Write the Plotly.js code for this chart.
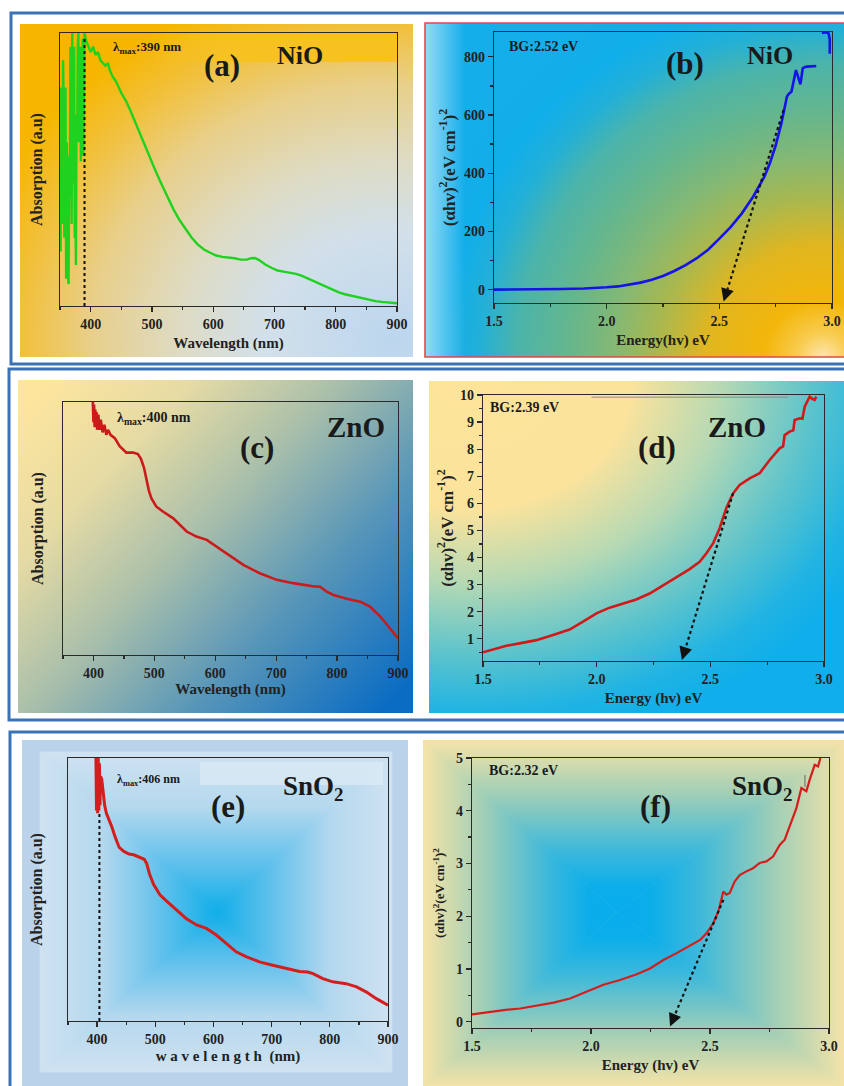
<!DOCTYPE html>
<html><head><meta charset="utf-8">
<script src="https://cdn.plot.ly/plotly-3.0.1.min.js"></script>
<style>html,body{margin:0;padding:0;background:#fff}#chart{width:844px;height:1086px}</style>
</head><body><div id="chart"></div>
<script>
// ---------- DATA ----------
// (a) NiO absorption
const nioWl = [350,351,352,353,354,355,356,357,358,359,360,361,362,363,364,365,366,367,368,369,370,371,372,373,374,375,376,377,378,379,380,381,382,383,384,385,386,387,388,389,390,393,396,400,404,408,412,416,420,424,428,432,436,442,450,458,466,475,485,495,505,515,525,535,545,555,565,575,585,595,605,615,625,635,645,655,662,668,675,685,695,705,715,725,735,745,755,765,775,785,795,805,815,825,835,845,855,865,875,885,900];
const nioAbs = [0.55,0.20,0.80,0.35,0.30,0.90,0.75,0.25,0.35,0.80,0.10,0.60,0.50,0.12,0.08,0.55,0.40,0.95,0.80,0.30,1.0,0.45,0.70,0.95,0.25,0.40,0.15,0.70,0.60,0.95,1.0,0.60,0.80,0.95,0.53,0.80,0.70,0.98,0.55,0.85,1.0,0.97,0.95,0.93,0.95,0.92,0.93,0.90,0.89,0.88,0.89,0.86,0.84,0.82,0.78,0.75,0.71,0.66,0.61,0.55,0.50,0.45,0.40,0.355,0.315,0.28,0.25,0.225,0.207,0.195,0.185,0.18,0.178,0.175,0.17,0.17,0.175,0.176,0.168,0.152,0.14,0.13,0.126,0.122,0.118,0.11,0.10,0.09,0.08,0.07,0.058,0.05,0.043,0.038,0.032,0.027,0.022,0.018,0.015,0.012,0.01];
const nioLambdaMax = 390;
// (b) NiO Tauc
const nioE = [1.5,1.6,1.7,1.8,1.9,1.95,2.0,2.05,2.1,2.15,2.2,2.25,2.3,2.35,2.4,2.45,2.5,2.55,2.6,2.65,2.7,2.725,2.75,2.775,2.8,2.81,2.82,2.83,2.84,2.85,2.86,2.87,2.88,2.89,2.91,2.93,null,2.955,2.975,2.985,2.99,2.99];
const nioTauc = [0,0,1,2,4,5,8,11,17,24,34,47,64,84,108,137,175,215,262,319,388,436,495,570,663,674,680,714,754,730,705,760,765,766,766,768,null,882,884,880,860,810];
const nioBG = 2.52;
const nioTangent = {x:[2.785,2.519], y:[617,-41]};
// (c) ZnO absorption
const znoWl = [399,400,401,402,403,404,405,406,408,410,412,415,418,421,424,428,435,443,454,465,473,478,483,487,491,495,503,514,531,553,569,586,602,624,646,673,701,728,750,760,772,783,794,816,838,854,871,887,900];
const znoAbs = [1.0,0.92,0.99,0.90,0.97,0.90,0.96,0.89,0.95,0.89,0.93,0.88,0.91,0.87,0.89,0.87,0.857,0.825,0.80,0.80,0.794,0.775,0.74,0.69,0.65,0.62,0.587,0.567,0.54,0.488,0.468,0.455,0.429,0.39,0.356,0.323,0.297,0.284,0.274,0.272,0.27,0.25,0.237,0.222,0.211,0.191,0.152,0.106,0.066];
const znoLambdaMax = 400;
// (d) ZnO Tauc
const znoE = [1.5,1.559,1.603,1.661,1.735,1.808,1.881,1.94,1.999,2.057,2.116,2.174,2.233,2.292,2.35,2.409,2.453,2.482,2.512,2.541,2.57,2.6,2.629,2.673,2.717,2.761,2.805,2.82,2.827,2.849,2.865,2.871,2.893,2.905,2.915,2.937,2.95,2.959,2.966];
const znoTauc = [0.50,0.64,0.74,0.83,0.95,1.14,1.34,1.63,1.94,2.15,2.31,2.45,2.67,2.98,3.29,3.57,3.84,4.15,4.52,5.08,5.82,6.37,6.68,6.92,7.11,7.6,8.03,8.1,8.52,8.65,8.7,9.08,9.14,9.12,9.57,9.94,9.85,9.82,9.94];
const znoBG = 2.39;
const znoTangent = {x:[2.6,2.375], y:[6.37,0.22]};
// (e) SnO2 absorption
const snoWl = [398,399,400,401,402,403,404,405,406,408,410,413,416,420,425,431,438,446,455,463,471,476,481,485,490,497,508,520,536,553,571,588,605,622,639,657,679,702,725,748,762,771,788,805,828,846,863,880,900];
const snoAbs = [1.0,0.80,1.0,0.79,1.0,0.80,0.98,0.82,0.93,0.92,0.88,0.82,0.79,0.77,0.74,0.70,0.66,0.645,0.635,0.632,0.625,0.62,0.615,0.60,0.56,0.52,0.48,0.455,0.422,0.39,0.365,0.352,0.327,0.295,0.263,0.244,0.225,0.212,0.20,0.188,0.186,0.18,0.161,0.149,0.142,0.13,0.11,0.085,0.06];
const snoLambdaMax = 404;
// (f) SnO2 Tauc
const snoE = [1.5,1.563,1.633,1.703,1.773,1.843,1.912,1.982,2.052,2.122,2.192,2.248,2.304,2.36,2.416,2.458,2.486,2.514,2.535,2.556,2.569,2.583,2.604,2.625,2.653,2.681,2.709,2.737,2.765,2.793,2.814,2.835,2.863,2.884,2.895,2.905,2.919,2.94,2.954,2.964];
const snoTauc = [0.14,0.18,0.22,0.25,0.30,0.36,0.44,0.57,0.70,0.79,0.90,1.01,1.17,1.30,1.44,1.55,1.68,1.87,2.09,2.47,2.41,2.44,2.66,2.78,2.85,2.91,3.01,3.04,3.13,3.35,3.45,3.70,4.05,4.43,4.40,4.37,4.59,4.87,4.84,5.0];
const snoBG = 2.32;
const snoTangent = {x:[2.556,2.332], y:[2.31,-0.09]};

// ---------- LAYOUT HELPERS ----------
const W = 844, H = 1086;
const SERIF = 'Liberation Serif, Times New Roman, serif';
const P = {
  a:{box:[60,397,33,306],  xr:[350,900], yr:[0,1.0],   n:''},
  b:{box:[494,832,32,303], xr:[1.5,3.0], yr:[-46,885], n:'2'},
  c:{box:[63,398,402,655], xr:[350,900], yr:[0,1.0],   n:'3'},
  d:{box:[483,824,395,661],xr:[1.5,3.0], yr:[0.18,10], n:'4'},
  e:{box:[68,388,758,1021],xr:[350,900], yr:[0,1.0],   n:'5'},
  f:{box:[472,829,758,1028],xr:[1.5,3.0],yr:[-0.12,5], n:'6'}
};
function toPx(p, xv, yv){
  const b = P[p].box;
  return [b[0] + (xv - P[p].xr[0])/(P[p].xr[1]-P[p].xr[0])*(b[1]-b[0]),
          b[3] - (yv - P[p].yr[0])/(P[p].yr[1]-P[p].yr[0])*(b[3]-b[2])];
}
const tickFont = {family:SERIF, size:14, color:'#222', weight:'bold'};
function xAx(p, title, standoff){
  const c = P[p], wl = c.xr[0] === 350;
  return {domain:[c.box[0]/W, c.box[1]/W], range:c.xr, anchor:'y'+c.n,
    showline:true, mirror:true, linecolor:'#2a2a2a', linewidth:1.3,
    ticks:'outside', ticklen:5, tickwidth:1.3, tickcolor:'#2a2a2a',
    tick0: wl?400:1.5, dtick: wl?100:0.5, tickformat: wl?'d':'.1f',
    minor:{ticks:'outside', ticklen:3, tickcolor:'#2a2a2a', tick0: wl?350:1.5, dtick: wl?50:0.25},
    showgrid:false, zeroline:false, tickfont:tickFont, fixedrange:true,
    title:{text:title, font:{family:SERIF, size:15, color:'#222', weight:'bold'}, standoff:standoff}};
}
function yAx(p, opts){
  const c = P[p];
  const base = {domain:[1-c.box[3]/H, 1-c.box[2]/H], range:c.yr, anchor:'x'+c.n,
    showline:true, mirror:true, linecolor:'#2a2a2a', linewidth:1.3,
    showgrid:false, zeroline:false, tickfont:tickFont, fixedrange:true};
  return Object.assign(base, opts);
}
function absY(p, standoff){
  return yAx(p, {ticks:'', showticklabels:false,
    title:{text:'Absorption (a.u)', font:{family:SERIF, size:16, color:'#222', weight:'bold'}, standoff:standoff}});
}
function tY(p, tick0, dtick, mdtick, size, standoff){
  return yAx(p, {ticks:'outside', ticklen:5, tickwidth:1.3, tickcolor:'#2a2a2a', tick0, dtick,
    minor:{ticks:'outside', ticklen:3, tickcolor:'#2a2a2a', tick0, dtick:mdtick},
    title:{text:'(αhv)<sup>2</sup>(eV cm<sup>-1</sup>)<sup>2</sup>', font:{family:SERIF, size:size, color:'#222', weight:'bold'}, standoff:standoff}});
}

// ---------- BACKGROUND (SVG image) ----------
function stopsStr(st){ return st.map(s=>`<stop offset="${s[0]}" stop-color="${s[1]}"/>`).join(''); }
function rectGrad(id, x0,y0,x1,y1,cx,cy,st){
  const d = [
    [`${x0},${y0} ${x1},${y0} ${cx},${cy}`, cx,y0,cx,cy],
    [`${x0},${y1} ${x1},${y1} ${cx},${cy}`, cx,y1,cx,cy],
    [`${x0},${y0} ${x0},${y1} ${cx},${cy}`, x0,cy,cx,cy],
    [`${x1},${y0} ${x1},${y1} ${cx},${cy}`, x1,cy,cx,cy]];
  let defs='', body='';
  d.forEach((t,i)=>{
    defs += `<linearGradient id="${id}${i}" gradientUnits="userSpaceOnUse" x1="${t[1]}" y1="${t[2]}" x2="${t[3]}" y2="${t[4]}">${stopsStr(st)}</linearGradient>`;
    body += `<polygon points="${t[0]}" fill="url(#${id}${i})" stroke="url(#${id}${i})" stroke-width="0.6"/>`;
  });
  return [defs, body];
}
function buildBg(){
  let defs = '', body = '';
  // (a)
  defs += `<radialGradient id="ga" cx="0.95" cy="0.95" r="1.1">${stopsStr([[0,'#bcd6ee'],[0.3,'#d2e0ea'],[0.5,'#dedbc2'],[0.7,'#e8cf8a'],[0.85,'#f1c140'],[1,'#f6b600']])}</radialGradient>`;
  defs += `<linearGradient id="gasm" x1="0" y1="0" x2="1" y2="0"><stop offset="0" stop-color="#f7c21e" stop-opacity="0"/><stop offset="0.35" stop-color="#f7c21e" stop-opacity="0.9"/><stop offset="1" stop-color="#f7c21e" stop-opacity="1"/></linearGradient>`;
  body += `<rect x="20" y="24" width="393" height="333" fill="url(#ga)"/>`;
  body += `<rect x="150" y="33" width="247" height="29" fill="url(#gasm)"/>`;
  // (b)
  defs += `<radialGradient id="gb" cx="0.95" cy="1.0" r="1.0" gradientTransform="translate(0.95,1) scale(1,1.2) translate(-0.95,-1)">${stopsStr([[0,'#fde6b0'],[0.06,'#f9cc50'],[0.14,'#f3b60a'],[0.28,'#e0b620'],[0.4,'#a8b850'],[0.5,'#84b874'],[0.62,'#62b690'],[0.73,'#4cb4aa'],[0.82,'#22b0d8'],[0.9,'#10aeea'],[1,'#14aeea']])}</radialGradient>`;
  defs += `<linearGradient id="gbl" x1="0" y1="0" x2="1" y2="0"><stop offset="0" stop-color="#ffffff" stop-opacity="0.55"/><stop offset="1" stop-color="#ffffff" stop-opacity="0"/></linearGradient>`;
  body += `<rect x="425" y="23" width="419" height="334" fill="url(#gb)"/>`;
  body += `<rect x="425" y="23" width="40" height="334" fill="url(#gbl)"/>`;
  // (c)
  defs += `<linearGradient id="gc" x1="0" y1="0.1" x2="1" y2="0.9">${stopsStr([[0,'#fde59e'],[0.22,'#e6dba4'],[0.45,'#a9bfaa'],[0.7,'#5896b8'],[1,'#0a6cc2']])}</linearGradient>`;
  body += `<rect x="18" y="380" width="395" height="333" fill="url(#gc)"/>`;
  // (d)
  defs += `<radialGradient id="gd" cx="0.1" cy="0.0" r="1.1">${stopsStr([[0,'#fde49a'],[0.35,'#fbe39c'],[0.55,'#b6d9b4'],[0.75,'#5cc3cc'],[0.9,'#22b4e2'],[1,'#10aeea']])}</radialGradient>`;
  body += `<rect x="429" y="381" width="415" height="332" fill="url(#gd)"/>`;
  // (e)
  body += `<rect x="22" y="740" width="386" height="346" fill="#bad3ea"/>`;
  let r = rectGrad('ge', 40,752,392,1072,217,912, [[0,'#cfe2f1'],[0.35,'#b4d8ee'],[0.7,'#5ec0ec'],[1,'#10aee8']]);
  defs += r[0]; body += r[1];
  body += `<rect x="200" y="762" width="183" height="23" fill="#e4eef7" opacity="0.55"/>`;
  // (f)
  body += `<rect x="423" y="740" width="421" height="346" fill="#f2e2a6"/>`;
  r = rectGrad('gf', 425,742,844,1086,617,912, [[0,'#f3e3a8'],[0.3,'#a2cfb6'],[0.65,'#3ab8dc'],[0.85,'#0caeea'],[1,'#08adec']]);
  defs += r[0]; body += r[1];
  return `<svg xmlns="http://www.w3.org/2000/svg" width="${W}" height="${H}" viewBox="0 0 ${W} ${H}"><defs>${defs}</defs>${body}</svg>`;
}

// ---------- TRACES ----------
function line(p, x, y, color, width){
  return {type:'scatter', mode:'lines', x, y, xaxis:'x'+P[p].n, yaxis:'y'+P[p].n,
    line:{color, width, shape:'linear'}, connectgaps:false, hoverinfo:'skip', showlegend:false};
}
const traces = [
  line('a', nioWl, nioAbs, '#1fd21f', 2.4),
  line('b', nioE, nioTauc, '#1414e6', 2.6),
  line('c', znoWl, znoAbs, '#cc1a1a', 2.6),
  line('d', znoE, znoTauc, '#d01a1a', 2.6),
  line('e', snoWl, snoAbs, '#d41e1e', 3.0),
  line('f', snoE, snoTauc, '#d41e1e', 2.2)
];

// ---------- SHAPES & ANNOTATIONS ----------
const shapes = [
  {type:'rect', xref:'paper', yref:'paper', x0:11/W, x1:852/W, y0:1-364/H, y1:1-13/H, line:{color:'#3b72b6', width:3}, layer:'above'},
  {type:'rect', xref:'paper', yref:'paper', x0:9/W, x1:852/W, y0:1-720/H, y1:1-369/H, line:{color:'#3b72b6', width:3}, layer:'above'},
  {type:'rect', xref:'paper', yref:'paper', x0:10/W, x1:852/W, y0:1-1096/H, y1:1-732/H, line:{color:'#3b72b6', width:3}, layer:'above'},
  {type:'rect', xref:'paper', yref:'paper', x0:425/W, x1:848/W, y0:1-357/H, y1:1-23/H, line:{color:'#e04a4a', width:1.6}},
  {type:'line', xref:'x', yref:'y', x0:nioLambdaMax, x1:nioLambdaMax, y0:0, y1:0.98, line:{color:'#111', width:2, dash:'dot'}},
  {type:'line', xref:'x5', yref:'y5', x0:snoLambdaMax, x1:snoLambdaMax, y0:0, y1:0.79, line:{color:'#111', width:2, dash:'dot'}},
  {type:'line', xref:'x4', yref:'y4', x0:1.977, x1:2.842, y0:9.92, y1:9.92, line:{color:'#8a8a8a', width:1}},
  {type:'line', xref:'x6', yref:'y6', x0:2.899, x1:2.899, y0:4.45, y1:4.68, line:{color:'#666', width:1}}
];
const annotations = [];
function tangent(p, t){
  const n = P[p].n;
  const a = toPx(p, t.x[0], t.y[0]), b = toPx(p, t.x[1], t.y[1]);
  const dx = b[0]-a[0], dy = b[1]-a[1], L = Math.hypot(dx,dy);
  const ux = dx/L, uy = dy/L, back = 13;
  const ex = P[p].xr[0] + (b[0]-ux*back - P[p].box[0])/(P[p].box[1]-P[p].box[0])*(P[p].xr[1]-P[p].xr[0]);
  const ey = P[p].yr[0] + (P[p].box[3] - (b[1]-uy*back))/(P[p].box[3]-P[p].box[2])*(P[p].yr[1]-P[p].yr[0]);
  shapes.push({type:'line', xref:'x'+n, yref:'y'+n, x0:t.x[0], y0:t.y[0], x1:ex, y1:ey, line:{color:'#111', width:2.2, dash:'dot'}});
  annotations.push({xref:'x'+n, yref:'y'+n, x:t.x[1], y:t.y[1], ax:-ux*back, ay:-uy*back, text:'', showarrow:true,
    arrowhead:2, arrowsize:1.3, arrowwidth:2, arrowcolor:'#111', standoff:0, startstandoff:0});
}
tangent('b', nioTangent);
tangent('d', znoTangent);
tangent('f', snoTangent);

function txt(px, py, text, size, anchor){
  annotations.push({xref:'paper', yref:'paper', x:px/W, y:1-py/H, text, showarrow:false,
    xanchor:anchor||'center', yanchor:'middle',
    font:{family:SERIF, size, color:'#1a1a1a', weight:'bold'}});
}
txt(111, 47, 'λ<sub>max</sub>:' + nioLambdaMax + ' nm', 13, 'left');
txt(222, 66, '(a)', 31); txt(300, 55, 'NiO', 26);
txt(507, 46, 'BG:' + nioBG.toFixed(2) + ' eV', 14, 'left');
txt(685, 64, '(b)', 31); txt(770, 55, 'NiO', 26);
txt(115, 418, 'λ<sub>max</sub>:' + znoLambdaMax + ' nm', 14, 'left');
txt(257, 447, '(c)', 31); txt(356, 427, 'ZnO', 29);
txt(488, 408, 'BG:' + znoBG.toFixed(2) + ' eV', 14, 'left');
txt(657, 447, '(d)', 31); txt(737, 427, 'ZnO', 29);
txt(115, 780, 'λ<sub>max</sub>:406 nm', 12, 'left');
txt(228, 806, '(e)', 31); txt(313, 788, 'SnO<sub>2</sub>', 27);
txt(487, 770, 'BG:' + snoBG.toFixed(2) + ' eV', 14, 'left');
txt(655, 806, '(f)', 31); txt(762, 788, 'SnO<sub>2</sub>', 27);

const layout = {
  width:W, height:H, margin:{l:0,r:0,t:0,b:0}, showlegend:false,
  paper_bgcolor:'#ffffff', plot_bgcolor:'rgba(0,0,0,0)',
  images:[{source:'data:image/svg+xml;charset=utf-8,' + encodeURIComponent(buildBg()),
    xref:'paper', yref:'paper', x:0, y:1, sizex:1, sizey:1, sizing:'stretch',
    xanchor:'left', yanchor:'top', layer:'below'}],
  xaxis:  xAx('a', 'Wavelength (nm)', 6),
  yaxis:  absY('a', 12),
  xaxis2: xAx('b', 'Energy(hv) eV', 6),
  yaxis2: tY('b', 0, 200, 100, 17, 4),
  xaxis3: xAx('c', 'Wavelength (nm)', 2),
  yaxis3: absY('c', 14),
  xaxis4: xAx('d', 'Energy (hv) eV', 6),
  yaxis4: tY('d', 1, 1, 0.5, 17, 2),
  xaxis5: xAx('e', 'w a v e l e n g t h  (nm)', 4),
  yaxis5: absY('e', 20),
  xaxis6: xAx('f', 'Energy (hv) eV', 6),
  yaxis6: tY('f', 0, 1, 0.5, 13, 8),
  shapes, annotations
};
Plotly.newPlot('chart', traces, layout, {staticPlot:true, displayModeBar:false});
</script></body></html>
